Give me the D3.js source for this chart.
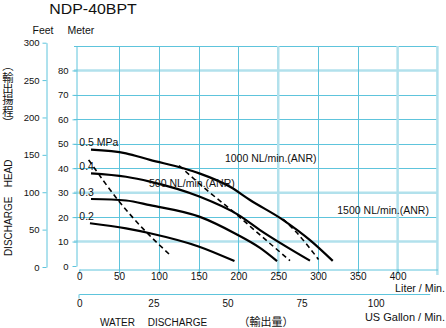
<!DOCTYPE html>
<html><head><meta charset="utf-8">
<script src="https://cdn.jsdelivr.net/npm/d3@7"></script>
<style>
html,body{margin:0;padding:0;background:#fff;}
svg{display:block;font-family:"Liberation Sans",Arial,sans-serif;}
</style></head>
<body>
<script>
// ---- data ----
const title = "NDP-40BPT";
const literTicks = [0,50,100,150,200,250,300,350,400];
const gallonTicks = [0,25,50,75,100];
const meterTicks = [0,10,20,30,40,50,60,70,80];
const feetTicks = [0,50,100,150,200,250,300];
const gridLiters = [50,100,150,200,250,300,350,400,450];
const gridMeters = [10,20,30,40,50,60,70,80,90];
const softLiters = [250,400,450];
const softMeters = [10,30,80];

// pressure curves: [liter/min, meter]
const p05 = [[14.7,47.6],[58.7,46.1],[88.8,43.4],[130.7,40.0],[150.8,37.9],[189.4,32.4],[214.5,27.0],[256.3,18.8],[289.9,10.6],[318.5,2.1]];
const p04 = [[14.7,37.9],[58.7,36.5],[88.8,34.5],[150.8,28.4],[199.8,20.9],[227.1,14.7],[289.9,2.2]];
const p03 = [[14.7,27.4],[58.7,26.8],[88.8,24.9],[150.8,20.2],[196.9,13.1],[227.1,7.4],[248.5,2.0]];
const p02 = [[13.4,17.5],[58.7,15.4],[88.8,13.4],[150.8,7.9],[195.0,2.0]];
const pressureLabels = ["0.5 MPa","0.4","0.3","0.2"];

// air consumption lines
const air500 = [[11.8,43.4],[50.3,26.3],[79.7,15.4],[113.1,4.8]];
const air1000 = [[125.3,41.1],[160.1,31.1],[193.5,22.2],[227.1,12.7],[264.8,2.2]];
const air1500 = [[256.0,19.2],[272.2,14.0],[300.6,2.7]];
const airLabels = ["500 NL/min.(ANR)","1000 NL/min.(ANR)","1500 NL/min.(ANR)"];

const headJa = "（輸出揚程）";

// ---- drawing ----
const W = 446, H = 328;
const svg = d3.select("body").append("svg").attr("width",W).attr("height",H);
svg.append("rect").attr("width",W).attr("height",H).attr("fill","#fff");

const xL = d3.scaleLinear().domain([0,450]).range([79.3,437.4]);
const xG = d3.scaleLinear().domain([0,100]).range([79.3,375.7]);
const yM = d3.scaleLinear().domain([0,90]).range([266,46]);
const yF = d3.scaleLinear().domain([0,300]).range([267,42.7]);

const C = "#5ec4dc", CS = "#b2e1ec";
const crisp = v => Math.round(v)+0.5;

// grid
const g = svg.append("g");
g.selectAll("line.h").data(gridMeters).join("line")
  .attr("x1",74).attr("x2",xL(450))
  .attr("y1",d=>softMeters.includes(d)?yM(d):crisp(yM(d)))
  .attr("y2",d=>softMeters.includes(d)?yM(d):crisp(yM(d)))
  .attr("stroke",d=>softMeters.includes(d)?CS:C)
  .attr("stroke-width",d=>softMeters.includes(d)?2.5:1);
g.selectAll("line.v").data(gridLiters).join("line")
  .attr("x1",d=>softLiters.includes(d)?xL(d):crisp(xL(d)))
  .attr("x2",d=>softLiters.includes(d)?xL(d):crisp(xL(d)))
  .attr("y1",46).attr("y2",275)
  .attr("stroke",d=>softLiters.includes(d)?CS:C)
  .attr("stroke-width",d=>softLiters.includes(d)?2.5:1);

function styleAxis(sel){
  sel.selectAll("path,line").attr("stroke",C);
  sel.selectAll("text").attr("fill","#111").attr("font-family","'Liberation Sans',Arial,sans-serif");
}
// meter axis
const aM = svg.append("g").attr("transform","translate(76.5,0)")
  .call(d3.axisLeft(yM).tickValues(meterTicks).tickSize(4).tickSizeOuter(0).tickPadding(4));
aM.selectAll("text").attr("font-size",9.5);
styleAxis(aM);
// feet axis
const aF = svg.append("g").attr("transform","translate(46.5,0)")
  .call(d3.axisLeft(yF).tickValues(feetTicks).tickSize(4).tickSizeOuter(0).tickPadding(3));
aF.selectAll("text").attr("font-size",9.5);
styleAxis(aF);
// liter axis
const aL = svg.append("g").attr("transform","translate(0,269.5)")
  .call(d3.axisBottom(xL).tickValues(literTicks).tickSize(5).tickSizeOuter(0).tickPadding(-1.3));
aL.selectAll("text").attr("font-size",10);
styleAxis(aL);
// gallon axis
const aG = svg.append("g").attr("transform","translate(0,294.5)")
  .call(d3.axisBottom(xG).tickValues(gallonTicks).tickSize(0).tickPadding(5));
aG.select("path.domain").attr("d",`M${xG(0)},0H${xL(441)}`);
aG.append("line").attr("x1",crisp(xG(0))-0.5).attr("x2",crisp(xG(0))-0.5).attr("y1",0).attr("y2",4);
aG.selectAll("text").attr("font-size",10);
styleAxis(aG);

// curves
const line = d3.line().x(d=>xL(d[0])).y(d=>yM(d[1])).curve(d3.curveMonotoneX);
svg.selectAll("path.p").data([p05,p04,p03,p02]).join("path")
  .attr("d",line).attr("fill","none").attr("stroke","#000").attr("stroke-width",2.2);
svg.selectAll("path.a").data([air500,air1000,air1500]).join("path")
  .attr("d",line).attr("fill","none").attr("stroke","#000").attr("stroke-width",1.6)
  .attr("stroke-dasharray","5,3.5");

// labels
const T = (x,y,t,fs,anchor) => svg.append("text").attr("x",x).attr("y",y).text(t)
  .attr("font-size",fs).attr("fill","#111").attr("text-anchor",anchor||"start");
const pLabelM = [48.9,39.1,28.6,18.8];
pressureLabels.forEach((t,i)=>T(xL(0),yM(pLabelM[i]),t,10.5));
const aLabelPos = [[87.6,32.4],[183,42.4],[324.2,21.3]];
airLabels.forEach((t,i)=>T(xL(aLabelPos[i][0]),yM(aLabelPos[i][1]),t,10.5));

T(49.3,14,title,15).attr("textLength",87.5).attr("lengthAdjust","spacingAndGlyphs");
T(32.5,34,"Feet",10.5);
T(67.5,34,"Meter",10.5);
T(445,292,"Liter / Min.",10.7,"end");
T(445,320.5,"US Gallon / Min.",11,"end");
T(100,326,"WATER",10);
T(147.7,326,"DISCHARGE",10);
T(238.5,326,"（輸出量）",11).attr("font-family","'Noto Sans CJK JP',sans-serif");

svg.append("text").attr("transform","translate(11.7,226.4) rotate(-90)")
  .attr("text-anchor","middle").attr("font-size",10).attr("fill","#111").text("DISCHARGE");
svg.append("text").attr("transform","translate(11.7,173.4) rotate(-90)")
  .attr("text-anchor","middle").attr("font-size",10).attr("fill","#111").text("HEAD");
svg.append("text").attr("x",8).attr("y",60.5)
  .style("writing-mode","vertical-rl")
  .attr("font-family","'Noto Sans CJK JP',sans-serif").attr("font-size",11.3)
  .attr("fill","#111").text(headJa);
</script>
</body></html>
